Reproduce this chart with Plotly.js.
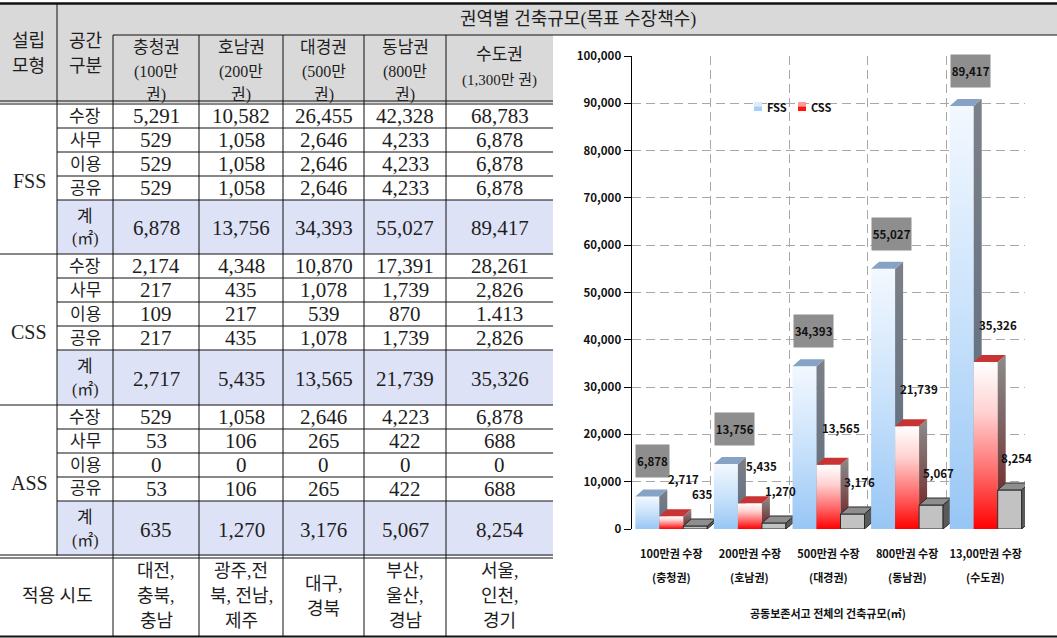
<!DOCTYPE html>
<html><head><meta charset="utf-8">
<script src="https://cdn.plot.ly/plotly-3.0.1.min.js"></script>
<style>html,body{margin:0;padding:0;background:#fff}#chart{width:1057px;height:638px}</style>
</head><body><div id="chart"></div>
<script>
// ================= DATA =================
const tableTitle = '권역별 건축규모(목표 수장책수)';
const regions = ['충청권', '호남권', '대경권', '동남권', '수도권'];
const regionPop = ['(100만', '(200만', '(500만', '(800만', '(1,300만 권)'];
const modelNames = ['FSS', 'CSS', 'ASS'];
const spaceTypes = ['수장', '사무', '이용', '공유'];

const fssStack  = ['5,291', '10,582', '26,455', '42,328', '68,783'];
const fssOffice = ['529', '1,058', '2,646', '4,233', '6,878'];
const fssUse    = ['529', '1,058', '2,646', '4,233', '6,878'];
const fssShare  = ['529', '1,058', '2,646', '4,233', '6,878'];

const cssStack  = ['2,174', '4,348', '10,870', '17,391', '28,261'];
const cssOffice = ['217', '435', '1,078', '1,739', '2,826'];
const cssUse    = ['109', '217', '539', '870', '1.413'];
const cssShare  = ['217', '435', '1,078', '1,739', '2,826'];

const assStack  = ['529', '1,058', '2,646', '4,223', '6,878'];
const assOffice = ['53', '106', '265', '422', '688'];
const assUse    = ['0', '0', '0', '0', '0'];
const assShare  = ['53', '106', '265', '422', '688'];

// totals (m²) - also the chart series
const fssTotal = [6878, 13756, 34393, 55027, 89417];
const cssTotal = [2717, 5435, 13565, 21739, 35326];
const assTotal = [635, 1270, 3176, 5067, 8254];

const cityLines = [
  ['대전,', '충북,', '충남'],
  ['광주,전', '북, 전남,', '제주'],
  ['대구,', '경북'],
  ['부산,', '울산,', '경남'],
  ['서울,', '인천,', '경기']
];

const catLine1 = ['100만권 수장', '200만권 수장', '500만권 수장', '800만권 수장', '13,00만권 수장'];
const catLine2 = ['(충청권)', '(호남권)', '(대경권)', '(동남권)', '(수도권)'];
const xTitle = '공동보존서고 전체의 건축규모(㎡)';
const yTicks = [0, 10000, 20000, 30000, 40000, 50000, 60000, 70000, 80000, 90000, 100000];

// ================= LAYOUT HELPERS =================
const W = 1057, H = 638;
const px = x => x / W, py = y => 1 - y / H;
const TF = 'Liberation Serif, Noto Sans CJK KR, serif';
const CF = 'Noto Sans CJK KR, Noto Sans, sans-serif';
const TC = '#1e1e1e';

const shapes = [], annotations = [], traces = [];

function rect(x0, y0, x1, y1, color) {
  shapes.push({type: 'rect', xref: 'paper', yref: 'paper', x0: px(x0), x1: px(x1), y0: py(y1), y1: py(y0),
    fillcolor: color, line: {width: 0}, layer: 'below'});
}
function hline(y, x0, x1, w) {
  shapes.push({type: 'line', xref: 'paper', yref: 'paper', x0: px(x0), x1: px(x1), y0: py(y), y1: py(y),
    line: {color: '#111', width: w || 1}, layer: 'below'});
}
function vline(x, y0, y1, w) {
  shapes.push({type: 'line', xref: 'paper', yref: 'paper', x0: px(x), x1: px(x), y0: py(y0), y1: py(y1),
    line: {color: '#111', width: w || 1}, layer: 'below'});
}
function txt(x, y, s, size, fam, anchor) {
  annotations.push({xref: 'paper', yref: 'paper', x: px(x), y: py(y), text: s, showarrow: false,
    xanchor: anchor || 'center', yanchor: 'middle', font: {family: fam || TF, size: size, color: TC}});
}

// ================= TABLE =================
const colC = [156, 241, 323.5, 405, 499.5];
const sectionTop = [104, 254, 405];
const sectionBot = [254, 405, 556];
const rowH = 24;
const sectionRows = [
  [fssStack, fssOffice, fssUse, fssShare, fssTotal],
  [cssStack, cssOffice, cssUse, cssShare, cssTotal],
  [assStack, assOffice, assUse, assShare, assTotal]
];

// backgrounds
rect(0, 4, 553, 103, '#d9d9d9');
rect(553, 4, 1057, 35, '#d9d9d9');
sectionTop.forEach((t, s) => rect(57, t + 4 * rowH, 553, sectionBot[s], '#dee2f6'));

// lines
hline(3.5, 0, 1057, 2.5);
hline(35, 113, 1057, 1);
hline(101, 0, 553, 1);
hline(104, 0, 553, 1);
vline(57, 4, 556);
[113, 199, 283, 364, 446].forEach(x => vline(x, 35, 636));
sectionTop.forEach((t, s) => {
  for (let k = 1; k <= 4; k++) hline(t + k * rowH, 57, 553, 1);
  if (s < 2) hline(sectionBot[s], 0, 553, 1);
});
hline(555, 0, 553, 1);
hline(558, 0, 553, 1);
hline(636.5, 0, 1057, 2);

// header texts
txt(578, 20, tableTitle, 18);
txt(28, 41, '설립', 18); txt(28, 66, '모형', 18);
txt(85, 41, '공간', 18); txt(85, 66, '구분', 18);
regions.forEach((r, i) => {
  if (i < 4) {
    txt(colC[i], 48, r, 17);
    txt(colC[i], 72, regionPop[i], 16);
    txt(colC[i], 95, '권)', 16);
  } else {
    txt(colC[i], 54, r, 17);
    txt(colC[i], 81, regionPop[i], 15);
  }
});

// body
sectionRows.forEach((rows, s) => {
  const t = sectionTop[s];
  txt(29, (t + sectionBot[s]) / 2 + 2, modelNames[s], 20);
  spaceTypes.forEach((sp, k) => {
    const yc = t + k * rowH + rowH / 2;
    txt(85, yc, sp, 17);
    rows[k].forEach((v, i) => txt(colC[i], yc, v, 21));
  });
  const yc = (t + 4 * rowH + sectionBot[s]) / 2;
  txt(85, yc - 11, '계', 17);
  txt(85, yc + 12, '(㎡)', 16);
  rows[4].forEach((v, i) => txt(colC[i], yc + 1, v.toLocaleString('en-US'), 21));
});

// 적용 시도
txt(57, 596, '적용 시도', 18);
cityLines.forEach((lines, i) => {
  const start = 596 - (lines.length - 1) * 12.5;
  lines.forEach((l, j) => txt(colC[i], start + j * 25, l, 18));
});

// ================= CHART =================
const plotL = 632, plotR = 1025, plotT = 56, plotB = 529;
const yMax = 100000;
const unitPx = (plotR - plotL) / regions.length;
const valPerPx = yMax / (plotB - plotT);
const barW = 24 / unitPx, dX = 8 / unitPx, dY = 7 * valPerPx;
const offsets = [-36 / unitPx, -12 / unitPx, 12 / unitPx];

const styles = [
  { front: {grad: [[0, '#97c6f5'], [0.5, '#c9e2fb'], [1, '#f3f8ff']]},
    side:  {grad: [[0, '#5b6b80'], [1, '#7c8087']]},
    top:   {color: '#86a2c4'} },
  { front: {grad: [[0, '#ff0000'], [0.35, '#ff6f6f'], [0.7, '#ffd2d2'], [1, '#ffffff']]},
    side:  {grad: [[0, '#741212'], [0.55, '#7d5c5c'], [1, '#8c8c8c']]},
    top:   {color: '#c83434'} },
  { front: {color: '#c2c2c2'}, side: {color: '#5a5a5a'}, top: {color: '#8e8e8e'}, outline: '#2a2a2a' }
];

function face(xs, ys, st, outline) {
  const t = {type: 'scatter', x: xs, y: ys, fill: 'toself', hoverinfo: 'skip', showlegend: false,
    mode: outline ? 'lines' : 'none'};
  if (outline) t.line = {color: outline, width: 1};
  if (st.grad) { t.fillgradient = {type: 'vertical', colorscale: st.grad}; t.fillcolor = st.grad[0][1]; }
  else t.fillcolor = st.color;
  traces.push(t);
}
function bar3d(i, v, s) {
  const st = styles[s];
  const x0 = i + offsets[s], x1 = x0 + barW;
  face([x0, x1, x1, x0, x0], [0, 0, v, v, 0], st.front, st.outline);
  face([x1, x1 + dX, x1 + dX, x1, x1], [0, dY, v + dY, v, 0], st.side, st.outline);
  face([x0, x1, x1 + dX, x0 + dX, x0], [v, v, v + dY, v + dY, v], st.top, st.outline);
}
const series = [fssTotal, cssTotal, assTotal];
regions.forEach((_, i) => series.forEach((arr, s) => bar3d(i, arr[i], s)));

// value labels
const LF = {family: CF, size: 11.5, color: '#111', weight: 700};
const AF = {family: CF, size: 11, color: '#111', weight: 700};
fssTotal.forEach((v, i) => {
  const s = v.toLocaleString('en-US');
  annotations.push({xref: 'x', yref: 'y', x: i + offsets[0], y: v, xanchor: 'left', yanchor: 'bottom',
    yshift: 18, text: s, showarrow: false, bgcolor: '#8e8e8e', width: s.length * 6.4 + 1, height: 32,
    borderpad: 0, font: LF});
});
cssTotal.forEach((v, i) => {
  annotations.push({xref: 'x', yref: 'y', x: i + offsets[1] + barW, y: v, xanchor: 'center', yanchor: 'middle',
    yshift: 37, text: v.toLocaleString('en-US'), showarrow: false, font: LF});
});
assTotal.forEach((v, i) => {
  annotations.push({xref: 'x', yref: 'y', x: i + offsets[2] + barW - 5 / unitPx, y: v, xanchor: 'center',
    yanchor: 'middle', yshift: 32, text: v.toLocaleString('en-US'), showarrow: false, font: LF});
});

// second line of category labels
catLine2.forEach((t, i) => {
  annotations.push({xref: 'x', yref: 'paper', x: i, y: py(577), text: t, showarrow: false,
    xanchor: 'center', yanchor: 'middle', font: AF});
});

// x axis title (placed as annotation for exact position)
annotations.push({xref: 'paper', yref: 'paper', x: (px(plotL) + px(plotR)) / 2, y: py(613), text: xTitle,
  showarrow: false, xanchor: 'center', yanchor: 'middle', font: AF});

// legend (FSS, CSS)
shapes.push({type: 'rect', xref: 'paper', yref: 'paper', x0: px(754), x1: px(762), y0: py(106.5), y1: py(102), fillcolor: '#dcebfd', line: {width: 0}});
shapes.push({type: 'rect', xref: 'paper', yref: 'paper', x0: px(754), x1: px(762), y0: py(111), y1: py(106.5), fillcolor: '#a6cff8', line: {width: 0}});
shapes.push({type: 'rect', xref: 'paper', yref: 'paper', x0: px(798), x1: px(806), y0: py(106.5), y1: py(102), fillcolor: '#ff9a9a', line: {width: 0}});
shapes.push({type: 'rect', xref: 'paper', yref: 'paper', x0: px(798), x1: px(806), y0: py(111), y1: py(106.5), fillcolor: '#ff1414', line: {width: 0}});
annotations.push({xref: 'paper', yref: 'paper', x: px(765), y: py(107), text: modelNames[0], showarrow: false, xanchor: 'left', yanchor: 'middle', font: AF});
annotations.push({xref: 'paper', yref: 'paper', x: px(809), y: py(107), text: modelNames[1], showarrow: false, xanchor: 'left', yanchor: 'middle', font: AF});

const gridStyle = {gridcolor: '#a8a8a8', griddash: '9px,5px', gridwidth: 1};

const layout = {
  width: W, height: H,
  margin: {l: 0, r: 0, t: 0, b: 0, pad: 0},
  paper_bgcolor: '#fff', plot_bgcolor: 'rgba(0,0,0,0)',
  showlegend: false,
  xaxis: {
    domain: [px(plotL), px(plotR)], range: [-0.5, regions.length - 0.5],
    tickmode: 'array', tickvals: regions.map((_, i) => i), ticktext: catLine1,
    showgrid: false, zeroline: false, showline: false, ticks: '', ticklabelstandoff: 17,
    tickfont: AF, fixedrange: true,
    minor: Object.assign({tickmode: 'array', tickvals: regions.map((_, i) => i + 0.5), showgrid: true, ticks: ''}, gridStyle)
  },
  yaxis: {
    domain: [py(plotB), py(plotT)], range: [0, yMax],
    tickmode: 'array', tickvals: yTicks, tickformat: ',',
    showline: true, linecolor: '#000', linewidth: 1.5,
    ticks: 'outside', ticklen: 7, tickcolor: '#000', tickwidth: 1,
    showgrid: true, gridcolor: gridStyle.gridcolor, griddash: gridStyle.griddash, gridwidth: 1,
    zeroline: false, tickfont: LF, fixedrange: true
  },
  shapes: shapes,
  annotations: annotations
};

Plotly.newPlot('chart', traces, layout, {displayModeBar: false, staticPlot: true});
</script>
</body></html>
